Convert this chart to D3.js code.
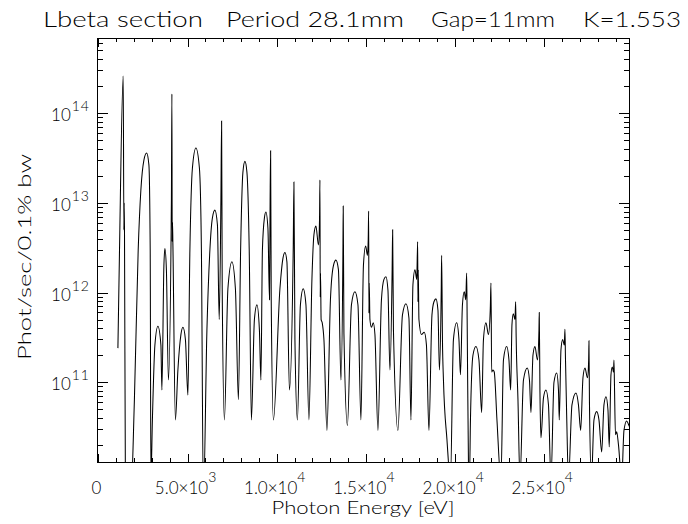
<!DOCTYPE html>
<html><head><meta charset="utf-8">
<script src="https://cdn.jsdelivr.net/npm/d3@7/dist/d3.min.js"></script>
<style>
body{margin:0;background:#fff;}
svg text{font-family:"Lato","Liberation Sans",sans-serif;font-weight:300;fill:#000;}
</style></head><body>
<svg id="c" width="688" height="524"></svg>
<script>
// ---- data (photon energy in eV, flux in phot/sec/0.1% bw) ----
const energyLow=[1094,1178,1391,1430,1447,1464,1514,1767,2019,2232,
2383,2552,2703,2832,2905,2944,3028,3169,3337,3505,
3561,3673,3729,3813,3926,4094,4122,4139,4156,4178,
4318,4458,4627,4739,4879,5019,5131,5272,5468,5664,
5776,5888,6085,6253,6393,6533,6674,6775,6870,6909,
6943,7066,7262,7487,7683,7851,7975,8104,8216,8328,
8457,8580,8748,8889,9029,9113,9197,9309,9393,9506,
9595,9629,9657,9691,9814];
const fluxLow=[2.4e11,2.5e12,2.6e14,5.0e12,1.0e13,4.7e12,8.1e9,2.9e9,6.4e10,3.0e12,
1.4e13,3.0e13,3.6e13,2.65e13,3.0e12,8.1e9,3.8e10,2.6e11,4.2e11,2.6e11,
8.2e10,2.0e12,3.1e12,1.8e12,1.06e11,1.08e13,1.64e14,3.7e12,6.1e12,3.4e12,
3.8e10,1.37e11,3.4e11,4.1e11,3.0e11,7.2e10,3.0e12,2.45e13,4.1e13,2.45e13,
3.0e12,4.9e9,3.8e11,3.0e12,6.8e12,8.3e12,5.7e12,5.0e11,1.08e13,8.2e13,
1.1e12,3.8e10,1.1e12,2.2e12,1.1e12,6.4e10,3.0e12,2.2e13,2.9e13,2.2e13,
3.0e12,3.8e10,5.0e11,7.3e11,3.8e11,1.06e11,3.0e12,6.8e12,7.9e12,5.2e12,
8.3e11,1.08e13,3.8e13,8.3e11,3.8e10];
const energyMid=[10179,10347,10459,10571,10711,10924,10964,11020,11160,11328,
11485,11637,11805,11973,12085,12197,12338,12399,12422,12439,
12455,12489,12551,12646,12814,13011,13179,13319,13459,13599,
13712,13728,13768,13964,14188,14385,14553,14721,14861,14985,
15086,15130,15153,15170,15187,15226,15310,15411,15506,15674,
15871,16011,16123,16235,16347,16471,16499,16544,16796,17048,
17245,17413,17525,17637,17749,17850,17901,17918,17934,17974,
18114,18271,18394,18534,18703,18815,18927,19039,19123,19224,
19247,19292,19348,19544,19740,19908,20088,20217,20301,20413,
20514,20598,20649,20677,20750,20806];
const fluxMid=[1.1e12,2.4e12,2.8e12,2.2e12,8.2e10,3.0e12,1.71e13,3.0e11,3.8e10,7.3e11,
1.1e12,7.3e11,3.8e10,1.4e12,4.4e12,5.5e12,3.4e12,6.5e12,1.8e13,8.9e11,
1.65e12,5.0e11,4.6e11,3.0e11,2.9e10,8.3e11,2.0e12,2.3e12,1.8e12,1.06e11,
3.0e12,9.2e12,3.5e11,3.3e10,7.3e11,1.02e12,7.3e11,3.8e10,2.0e12,3.3e12,
2.6e12,3.9e12,8.1e12,5.9e11,1.28e12,5.0e11,4.1e11,4.6e11,3.4e11,2.9e10,
8.3e11,1.4e12,1.5e12,1.07e12,1.37e11,1.8e12,5.0e12,3.8e11,2.9e10,5.6e11,
7.5e11,5.2e11,3.8e10,1.22e12,1.8e12,1.4e12,3.7e12,7.9e11,1.8e12,5.0e11,
3.4e11,3.6e11,2.6e11,2.9e10,5.6e11,7.9e11,8.5e11,6.4e11,1.37e11,1.07e12,
2.6e12,3.0e11,1.06e11,2.3e10,8.1e9,3.0e11,4.6e11,3.0e11,1.21e11,7.3e11,
1.02e12,8.3e11,1.65e12,5.0e11,1.29e10,8.1e9];
const energyHigh=[20862,21002,21170,21339,21490,21591,21731,21871,21972,22012,
22051,22124,22196,22348,22572,22712,22892,23021,23117,23190,
23262,23357,23397,23425,23526,23638,23834,24047,24170,24255,
24367,24479,24619,24703,24720,24759,24816,24956,25096,25236,
25376,25545,25696,25797,25842,25937,26032,26122,26161,26189,
26257,26358,26554,26778,26918,27042,27171,27283,27423,27490,
27507,27535,27647,27788,27939,28068,28220,28348,28461,28573,
28645,28741,28814,28881,28909,28937,28993,29061,29162,29341,
29470,29622,29722,29778];
const fluxHigh=[3.8e10,2.0e11,2.5e11,1.77e11,4.6e10,3.0e11,4.6e11,3.4e11,6.4e11,1.28e12,
1.3e11,1.37e11,1.3e11,3.8e10,8.1e9,1.77e11,2.5e11,1.77e11,8.2e10,4.4e11,
5.8e11,5.0e11,7.9e11,3.2e11,6.4e10,8.1e9,1.06e11,1.44e11,1.06e11,4.6e10,
2.0e11,2.5e11,1.77e11,3.8e11,6.0e11,7.8e10,2.4e10,6.7e10,8.2e10,5.6e10,
8.1e9,1.0e11,1.27e11,8.2e10,3.8e10,2.3e11,3.0e11,2.6e11,3.9e11,1.87e11,
4.3e10,8.1e9,5.6e10,7.6e10,5.6e10,2.9e10,1.12e11,1.44e11,1.12e11,1.77e11,
2.9e11,5.9e10,8.1e9,3.8e10,4.7e10,3.8e10,1.67e10,5.6e10,6.9e10,4.9e10,
1.9e10,1.21e11,1.48e11,1.3e11,1.77e11,9.3e10,2.6e10,2.8e10,2.0e10,8.1e9,
2.9e10,3.7e10,3.4e10,3.2e10];

const xMajorTicks=[0,5000,10000,15000,20000,25000];
const xTickMantissa=["0","5.0×10","1.0×10","1.5×10","2.0×10","2.5×10"];
const xTickExponent=["","3","4","4","4","4"];
const yMajorTicks=[1e11,1e12,1e13,1e14];
const yTickExponent=["11","12","13","14"];
const titleParts=["Lbeta section","Period 28.1mm","Gap=11mm","K=1.553"];
const xTitle="Photon Energy [eV]";
const yTitle="Phot/sec/0.1% bw";

// ---- layout ----
const L=97.5,R=629.5,T=38,B=462;
const svg=d3.select("#c");
const x=d3.scaleLinear().domain([-50,29780]).range([L,R]);
const y=d3.scaleLog().domain([1.29e10,6.89e14]).range([B,T]);

const energy=energyLow.concat(energyMid,energyHigh);
const flux=fluxLow.concat(fluxMid,fluxHigh);
const pts=energy.map((e,i)=>[e,flux[i]]);

svg.append("clipPath").attr("id","pc").append("rect")
  .attr("x",L).attr("y",T).attr("width",R-L).attr("height",B-T);

svg.append("path").datum(pts)
  .attr("clip-path","url(#pc)")
  .attr("fill","none").attr("stroke","#000").attr("stroke-width",1.05)
  .attr("d",d3.line().x(d=>x(d[0])).y(d=>y(d[1])).curve(d3.curveMonotoneX));

// minor tick values
const xMinor=d3.range(1000,29780,1000).filter(v=>v%5000!==0);
const yMinor=[];
[10,11,12,13,14].forEach(p=>{for(let m=2;m<=9;m++){const v=m*Math.pow(10,p);if(v>1.29e10&&v<6.89e14)yMinor.push(v);}});

function ax(gen,tr){
  const g=svg.append("g").attr("transform",tr).call(gen);
  g.select(".domain").remove();
  g.selectAll("line").attr("stroke","#000").attr("shape-rendering","crispEdges");
  g.selectAll("text").remove();
}
const xMaj=8.5,xMin=4.2,yMaj=10.6,yMin=5.3;
ax(d3.axisBottom(x).tickValues(xMajorTicks).tickSize(-xMaj),`translate(0,${B})`);
ax(d3.axisBottom(x).tickValues(xMinor).tickSize(-xMin),`translate(0,${B})`);
ax(d3.axisTop(x).tickValues(xMajorTicks).tickSize(-xMaj),`translate(0,${T})`);
ax(d3.axisTop(x).tickValues(xMinor).tickSize(-xMin),`translate(0,${T})`);
ax(d3.axisLeft(y).tickValues(yMajorTicks).tickSize(-yMaj),`translate(${L},0)`);
ax(d3.axisLeft(y).tickValues(yMinor).tickSize(-yMin),`translate(${L},0)`);
ax(d3.axisRight(y).tickValues(yMajorTicks).tickSize(-yMaj),`translate(${R},0)`);
ax(d3.axisRight(y).tickValues(yMinor).tickSize(-yMin),`translate(${R},0)`);

svg.append("rect").attr("x",L).attr("y",T).attr("width",R-L).attr("height",B-T)
  .attr("fill","none").attr("stroke","#000").attr("stroke-width",1).attr("shape-rendering","crispEdges");

// x tick labels
xMajorTicks.forEach((v,i)=>{
  const t=svg.append("text").attr("x",x(v)-2).attr("y",494).attr("text-anchor","middle").attr("font-size",17);
  t.append("tspan").text(xTickMantissa[i]);
  if(xTickExponent[i]) t.append("tspan").attr("dy",-12).attr("font-size",14).text(xTickExponent[i]);
});
// y tick labels
yMajorTicks.forEach((v,i)=>{
  const t=svg.append("text").attr("x",90).attr("y",y(v)+8).attr("text-anchor","end").attr("font-size",17);
  t.append("tspan").text("10");
  t.append("tspan").attr("dx",1).attr("dy",-10).attr("font-size",14).attr("letter-spacing",1).text(yTickExponent[i]);
});

// title
const tpos=[[43,160],[226,178],[431,124],[583,98]];
titleParts.forEach((s,i)=>{
  svg.append("text").attr("x",tpos[i][0]).attr("y",27).attr("font-size",22)
    .attr("textLength",tpos[i][1]).attr("lengthAdjust","spacingAndGlyphs").text(s);
});
// axis titles
svg.append("text").attr("x",363).attr("y",514).attr("text-anchor","middle").attr("font-size",17.5)
  .attr("textLength",183).attr("lengthAdjust","spacingAndGlyphs").text(xTitle);
svg.append("text").attr("transform","translate(31,257) rotate(-90)").attr("text-anchor","middle")
  .attr("font-size",17.5).attr("textLength",206).attr("lengthAdjust","spacingAndGlyphs").text(yTitle);
</script>
</body></html>
